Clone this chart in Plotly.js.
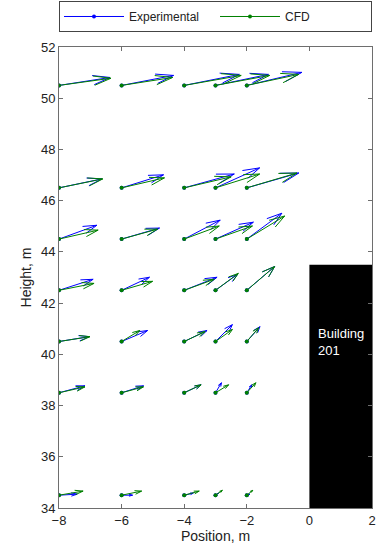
<!DOCTYPE html>
<html>
<head>
<meta charset="utf-8">
<script src="https://cdn.plot.ly/plotly-3.0.1.min.js"></script>
<style>html,body{margin:0;padding:0;background:#fff;}#chart{width:376px;height:548px;}</style>
</head>
<body>
<div id="chart"></div>
<script>
// Measurement grid
const columnX = [-8, -6, -4, -3, -2];
const rowY = [50.5, 46.5, 44.5, 42.5, 40.5, 38.5, 34.5];

// Experimental velocity components (one array per row, top to bottom)
const expU = [
  [1.63, 1.66, 1.76, 1.69, 1.76],
  [1.37, 1.34, 1.60, 1.41, 1.66],
  [1.21, 1.21, 1.15, 1.21, 1.12],
  [1.09, 0.89, 1.05, 0.70, 0.89],
  [0.96, 0.83, 0.73, 0.54, 0.42],
  [0.83, 0.70, 0.54, 0.19, 0.16],
  [0.58, 0.35, 0.29, 0.10, 0.10]
];
const expV = [
  [0.31, 0.39, 0.43, 0.43, 0.51],
  [0.35, 0.51, 0.54, 0.78, 0.58],
  [0.54, 0.43, 0.74, 0.66, 1.01],
  [0.43, 0.51, 0.51, 0.62, 0.93],
  [0.19, 0.43, 0.43, 0.66, 0.58],
  [0.27, 0.27, 0.31, 0.39, 0.31],
  [0.04, 0.00, 0.08, 0.08, 0.04]
];

// CFD velocity components
const cfdU = [
  [1.66, 1.63, 1.82, 1.73, 1.66],
  [1.40, 1.37, 1.50, 1.41, 1.60],
  [1.25, 1.15, 1.12, 1.18, 1.21],
  [1.12, 0.99, 0.96, 0.73, 0.89],
  [0.99, 0.58, 0.67, 0.54, 0.38],
  [0.83, 0.70, 0.54, 0.42, 0.29],
  [0.77, 0.64, 0.48, 0.22, 0.19]
];
const cfdV = [
  [0.28, 0.31, 0.39, 0.39, 0.43],
  [0.35, 0.39, 0.43, 0.54, 0.58],
  [0.35, 0.39, 0.51, 0.51, 0.90],
  [0.27, 0.35, 0.43, 0.66, 0.93],
  [0.19, 0.43, 0.39, 0.47, 0.54],
  [0.23, 0.23, 0.31, 0.31, 0.39],
  [0.16, 0.16, 0.16, 0.19, 0.19]
];

// Building outline
const buildingX = [0, 2, 2, 0, 0];
const buildingY = [34, 34, 43.5, 43.5, 34];
const buildingLabel = 'Building<br>201';

const xTicks = [-8, -6, -4, -2, 0, 2];
const yTicks = [34, 36, 38, 40, 42, 44, 46, 48, 50, 52];

function quiver(U, V) {
  const alpha = 0.33, beta = 0.33;
  const lx = [], ly = [], ox = [], oy = [];
  rowY.forEach((y, r) => {
    columnX.forEach((x, c) => {
      const u = U[r][c], v = V[r][c];
      const tx = x + u, ty = y + v;
      lx.push(x, tx, null);
      ly.push(y, ty, null);
      lx.push(tx - alpha * (u + beta * v), tx, tx - alpha * (u - beta * v), null);
      ly.push(ty - alpha * (v - beta * u), ty, ty - alpha * (v + beta * u), null);
      ox.push(x); oy.push(y);
    });
  });
  return {lx, ly, ox, oy};
}

const font = 'Liberation Sans, Arial, sans-serif';
const e = quiver(expU, expV);
const f = quiver(cfdU, cfdV);
const blue = '#0000ff', green = '#008000';

const traces = [
  {x: buildingX, y: buildingY, type: 'scatter', mode: 'lines', fill: 'toself',
   fillcolor: '#000', line: {width: 0, color: '#000'}, showlegend: false, hoverinfo: 'skip'},
  {x: e.lx, y: e.ly, type: 'scatter', mode: 'lines', line: {color: blue, width: 1},
   legendgroup: 'e', showlegend: false, hoverinfo: 'skip'},
  {x: e.ox, y: e.oy, type: 'scatter', mode: 'markers', marker: {color: blue, size: 4},
   legendgroup: 'e', showlegend: false, hoverinfo: 'skip'},
  {x: f.lx, y: f.ly, type: 'scatter', mode: 'lines', line: {color: green, width: 1},
   legendgroup: 'f', showlegend: false, hoverinfo: 'skip'},
  {x: f.ox, y: f.oy, type: 'scatter', mode: 'markers', marker: {color: green, size: 4},
   legendgroup: 'f', showlegend: false, hoverinfo: 'skip'},
  // legend entries
  {x: [null], y: [null], type: 'scatter', mode: 'lines+markers', name: 'Experimental',
   line: {color: blue, width: 1}, marker: {color: blue, size: 4}, legendgroup: 'e'},
  {x: [null], y: [null], type: 'scatter', mode: 'lines+markers', name: 'CFD',
   line: {color: green, width: 1}, marker: {color: green, size: 4}, legendgroup: 'f'}
];

const axisCommon = {
  showline: true, linecolor: '#6e6e6e', linewidth: 1, mirror: 'ticks',
  ticks: 'inside', ticklen: 4, tickcolor: '#6e6e6e', showgrid: false, zeroline: false,
  tickfont: {family: font, size: 13, color: '#222'}
};

const layout = {
  width: 376, height: 548,
  margin: {l: 59, r: 4, t: 47, b: 40, autoexpand: false},
  paper_bgcolor: '#fff', plot_bgcolor: '#fff',
  font: {family: font, size: 13, color: '#222'},
  xaxis: Object.assign({}, axisCommon, {range: [-8, 2], tickvals: xTicks,
    title: {text: 'Position, m', font: {family: font, size: 14, color: '#222'}, standoff: 4}}),
  yaxis: Object.assign({}, axisCommon, {range: [34, 52], tickvals: yTicks,
    title: {text: 'Height, m', font: {family: font, size: 14, color: '#222'}, standoff: 6}}),
  showlegend: true,
  legend: {orientation: 'h', x: 0, xanchor: 'left', y: 1.0998, yanchor: 'top',
    bordercolor: '#444', borderwidth: 1, bgcolor: '#fff', itemwidth: 60,
    entrywidth: 81, font: {family: font, size: 12, color: '#222'}},
  annotations: [{x: 0.22, y: 40.5, xref: 'x', yref: 'y', text: buildingLabel, showarrow: false,
    xanchor: 'left', align: 'left', font: {family: font, size: 13, color: '#fff'}}]
};

Plotly.newPlot('chart', traces, layout, {staticPlot: true});
</script>
</body>
</html>
